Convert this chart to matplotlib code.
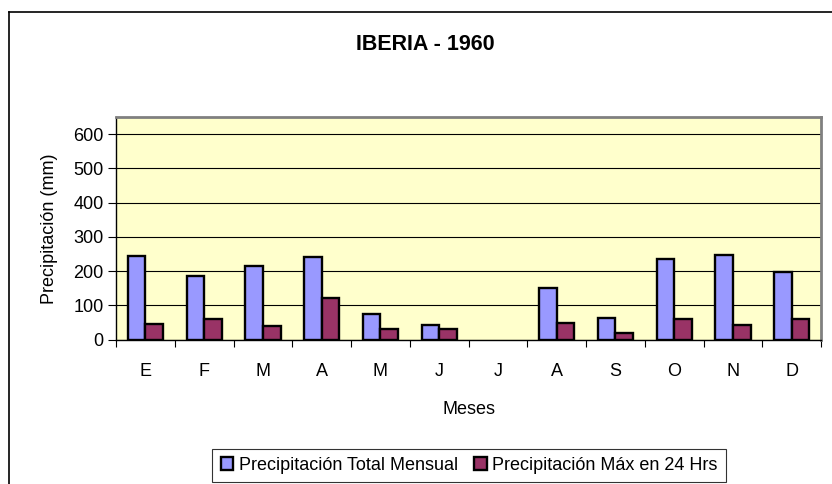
import numpy as np
import matplotlib
matplotlib.use("Agg")
import matplotlib.pyplot as plt
from matplotlib.lines import Line2D

plt.rcParams['font.family'] = ['Liberation Sans', 'DejaVu Sans']

meses = ['E', 'F', 'M', 'A', 'M', 'J', 'J', 'A', 'S', 'O', 'N', 'D']
total_mensual = [245, 186, 216, 240, 74, 42, np.nan, 151, 62, 235, 246, 196]
max_24h = [46, 60, 40, 120, 32, 31, np.nan, 49, 18, 60, 42, 59]
y_ticks = [0, 100, 200, 300, 400, 500, 600]

W, H = 832, 484
fig = plt.figure(figsize=(W / 100, H / 100), dpi=100)
fig.patch.set_facecolor('white')

# plot area in pixel coords
left, right, top, bottom = 116, 821, 117, 339.5
ax = fig.add_axes([left / W, 1 - bottom / H, (right - left) / W, (bottom - top) / H])
ax.set_facecolor('#FFFFCC')

x = np.arange(len(meses))
bw = 0.3
ax.bar(x - bw / 2, total_mensual, bw, color='#9999FF', edgecolor='black',
       linewidth=1.7, label='Precipitación Total Mensual', zorder=3)
ax.bar(x + bw / 2, max_24h, bw, color='#993366', edgecolor='black',
       linewidth=1.7, label='Precipitación Máx en 24 Hrs', zorder=3)

ax.set_xlim(-0.5, len(meses) - 0.5)
ax.set_ylim(0, 650)
ax.set_yticks(y_ticks)
ax.yaxis.grid(True, color='black', linewidth=0.8, zorder=1)
ax.set_axisbelow(True)

# tick marks at category boundaries, labels at centers
ax.set_xticks(np.arange(-0.5, len(meses), 1.0))
ax.set_xticklabels([])
ax.set_xticks(x, minor=True)
ax.set_xticklabels(meses, minor=True)
ax.tick_params(axis='x', which='major', direction='out', length=5, width=0.8)
ax.tick_params(axis='x', which='minor', length=0, pad=23, labelsize=13)
ax.tick_params(axis='y', direction='out', length=6, width=0.8, labelsize=13, pad=3)
for lab in ax.get_xticklabels(minor=True):
    lab.set_va('center')

for s in ['top', 'right']:
    ax.spines[s].set_color('#808080')
    ax.spines[s].set_linewidth(2)
for s in ['left', 'bottom']:
    ax.spines[s].set_color('black')
    ax.spines[s].set_linewidth(1)

ax.set_ylabel('Precipitación (mm)', fontsize=13)
ax.yaxis.set_label_coords((50 - left) / (right - left), 0.5)
ax.yaxis.label.set_va('center')
ax.set_xlabel('Meses', fontsize=13)
ax.xaxis.set_label_coords(0.5, -(410 - bottom) / (bottom - top))
ax.xaxis.label.set_va('center')

# title is centred on the whole chart area, not the plot area
fig.text(425 / W, 1 - 44 / H, 'IBERIA - 1960', ha='center', va='center',
         fontsize=15.5, fontweight='bold')

leg = fig.legend(loc='upper center', bbox_to_anchor=(469 / W, 1 - 449 / H),
                 ncol=2, fontsize=13, frameon=True, fancybox=False, edgecolor='black',
                 handlelength=0.7, handleheight=0.7, handletextpad=0.3,
                 columnspacing=0.9, borderpad=0.45, borderaxespad=0)
leg.get_frame().set_linewidth(0.8)

# outer chart border (left and top edges)
fig.add_artist(Line2D([9 / W, 9 / W], [0, 1 - 12 / H], color='black', linewidth=1.2))
fig.add_artist(Line2D([9 / W, 1], [1 - 12 / H, 1 - 12 / H], color='black', linewidth=1.2))

fig.savefig('out.png', dpi=100)
